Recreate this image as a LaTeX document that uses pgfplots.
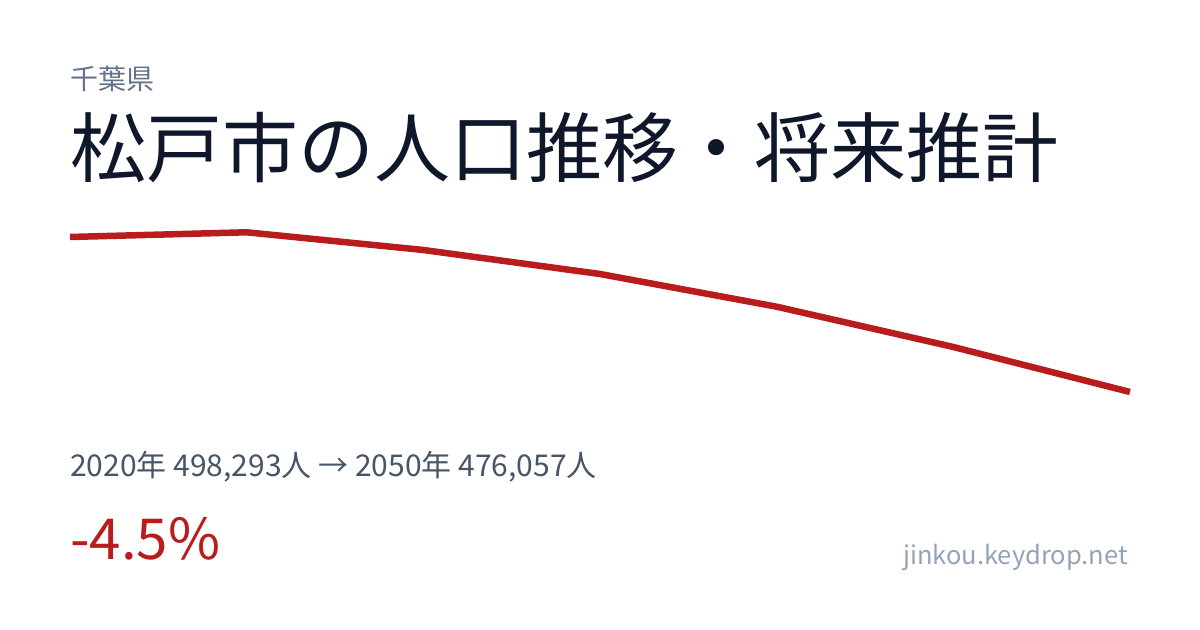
\documentclass[border=0pt]{standalone}
\usepackage{fontspec}
\setmainfont{Noto Sans CJK JP}
\usepackage{pgfplots}
\pgfplotsset{compat=1.18}
\definecolor{titlec}{HTML}{0F172A}
\definecolor{prefc}{HTML}{64748B}
\definecolor{subc}{HTML}{475569}
\definecolor{redc}{HTML}{B91C1C}
\definecolor{urlc}{HTML}{94A3B8}
\begin{document}
\begin{tikzpicture}[x=1bp,y=1bp]
\fill[white] (0,0) rectangle (1200,630);
\begin{axis}[
  at={(70bp,238bp)}, anchor=south west,
  width=1060bp, height=155bp, scale only axis,
  hide axis, clip=false,
  xmin=2020, xmax=2050, ymin=476057, ymax=498293,
]
\addplot[color=redc, line width=6.5bp, line join=round, line cap=butt] coordinates {
  (2020,498293) (2025,498967) (2030,496428) (2035,492985)
  (2040,488294) (2045,482513) (2050,476057)
};
\end{axis}
\node[anchor=base west, inner sep=0, text=prefc, font=\fontsize{28bp}{30bp}\selectfont] at (70,540) {千葉県};
\node[anchor=base west, inner sep=0, text=titlec, font=\fontsize{76bp}{80bp}\selectfont] at (70,453) {松戸市の人口推移・将来推計};
\node[anchor=base west, inner sep=0, text=subc, font=\fontsize{30bp}{32bp}\selectfont] at (70,153) {2020年 498,293人 → 2050年 476,057人};
\node[anchor=base west, inner sep=0, text=redc, font=\fontsize{56.5bp}{60bp}\selectfont] at (70,70) {-4.5\%};
\node[anchor=base east, inner sep=0, text=urlc, font=\fontsize{25.5bp}{27bp}\selectfont] at (1128,65) {jinkou.keydrop.net};
\end{tikzpicture}
\end{document}
